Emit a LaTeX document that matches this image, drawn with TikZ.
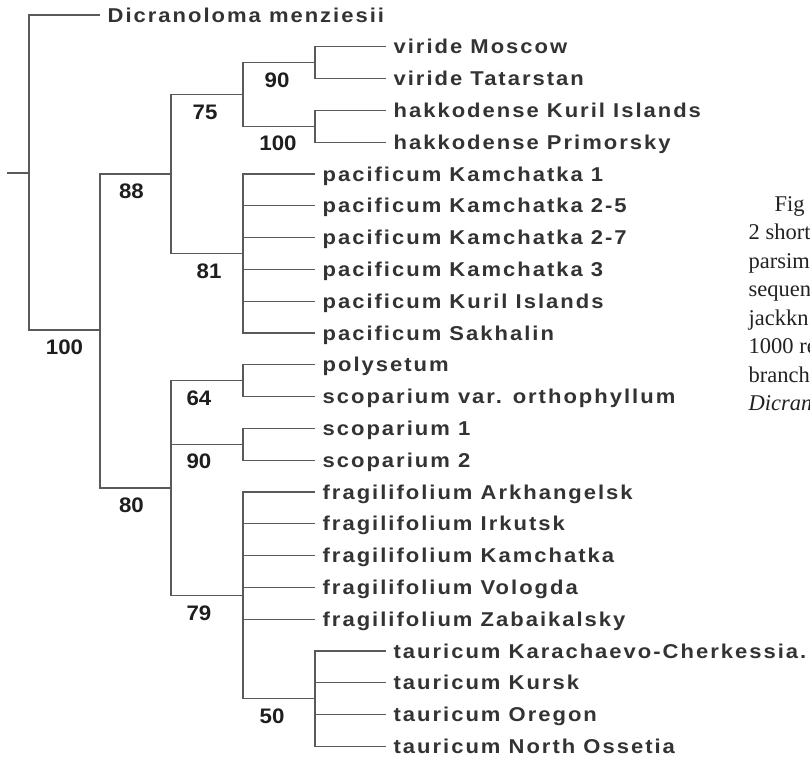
\documentclass[tikz,border=0pt]{standalone}
\usepackage{fontspec}
\usepackage{tikz}
\newfontfamily\treefont[LetterSpace=10,FakeStretch=1.1]{Liberation Sans}
\newfontfamily\bootfont[FakeStretch=1.06]{Liberation Sans}
\newfontfamily\capfont{Liberation Serif}
\definecolor{branch}{HTML}{5A5A5A}
\definecolor{taxon}{HTML}{333333}
\definecolor{support}{HTML}{1E1E1E}
\definecolor{captext}{HTML}{222222}

\begin{document}
\begin{tikzpicture}[x=1pt, y=-1pt, line width=1.3pt, color=branch,
    leaf/.style={anchor=west, inner xsep=7pt, inner ysep=0pt, text height=14pt, text depth=0pt,
      text=taxon, font=\treefont\bfseries\fontsize{20}{24}\selectfont},
    boot/.style={pos=0.75, below=9pt, inner sep=0pt, text height=15pt, text depth=0pt,
      text=support, font=\bootfont\bfseries\fontsize{21}{25}\selectfont},
    caption/.style={anchor=base west, inner sep=0pt, text=captext, font=\capfont\fontsize{22.5}{27}\selectfont}]
    \useasboundingbox (0,0) rectangle (810,761);

    % internal nodes
    \coordinate (base) at (7,173);
    \coordinate (root) at (29,173);
    \coordinate (n100) at (100,330);
    \coordinate (n88) at (171,174);
    \coordinate (n75) at (243,94.5);
    \coordinate (n90a) at (315,62.7);
    \coordinate (n100b) at (315,126.3);
    \coordinate (n81) at (243,253.5);
    \coordinate (n80) at (171,488);
    \coordinate (n64) at (243,380.7);
    \coordinate (n90b) at (243,444.3);
    \coordinate (n79) at (243,595.4);
    \coordinate (n50) at (315,698.7);

    % taxa
    \node[leaf] (dmen) at (100,15) {Dicranoloma menziesii};
    \node[leaf] (vmos) at (386,46.8) {viride Moscow};
    \node[leaf] (vtat) at (386,78.6) {viride Tatarstan};
    \node[leaf] (hkur) at (386,110.4) {hakkodense Kuril Islands};
    \node[leaf] (hpri) at (386,142.2) {hakkodense Primorsky};
    \node[leaf] (pk1) at (315,174) {pacificum Kamchatka 1};
    \node[leaf] (pk25) at (315,205.8) {pacificum Kamchatka 2-5};
    \node[leaf] (pk27) at (315,237.6) {pacificum Kamchatka 2-7};
    \node[leaf] (pk3) at (315,269.4) {pacificum Kamchatka 3};
    \node[leaf] (pkur) at (315,301.2) {pacificum Kuril Islands};
    \node[leaf] (psak) at (315,333) {pacificum Sakhalin};
    \node[leaf] (poly) at (315,364.8) {polysetum};
    \node[leaf] (svor) at (315,396.6) {scoparium var. orthophyllum};
    \node[leaf] (sc1) at (315,428.4) {scoparium 1};
    \node[leaf] (sc2) at (315,460.2) {scoparium 2};
    \node[leaf] (fark) at (315,492) {fragilifolium Arkhangelsk};
    \node[leaf] (firk) at (315,523.8) {fragilifolium Irkutsk};
    \node[leaf] (fkam) at (315,555.6) {fragilifolium Kamchatka};
    \node[leaf] (fvol) at (315,587.4) {fragilifolium Vologda};
    \node[leaf] (fzab) at (315,619.2) {fragilifolium Zabaikalsky};
    \node[leaf] (tkar) at (386,651) {tauricum Karachaevo-Cherkessia.};
    \node[leaf] (tkur) at (386,682.8) {tauricum Kursk};
    \node[leaf] (tore) at (386,714.6) {tauricum Oregon};
    \node[leaf] (tnos) at (386,746.4) {tauricum North Ossetia};

    % branches
    \draw (base) -- (root);
    \draw (root) |- (dmen);
    \draw (root) |- (n100) node[boot] {100};
    \draw (n100) |- (n88) node[boot, xshift=-4pt] {88};
    \draw (n100) |- (n80) node[boot, xshift=-4pt] {80};
    \draw (n88) |- (n75) node[boot, xshift=-2pt] {75};
    \draw (n88) |- (n81) node[boot, xshift=2pt] {81};
    \draw (n75) |- (n90a) node[boot, xshift=-2pt] {90};
    \draw (n75) |- (n100b) node[boot, xshift=-1pt] {100};
    \draw (n90a) |- (vmos);
    \draw (n90a) |- (vtat);
    \draw (n100b) |- (hkur);
    \draw (n100b) |- (hpri);
    \draw (n81) |- (pk1);
    \draw (n81) |- (pk25);
    \draw (n81) |- (pk27);
    \draw (n81) |- (pk3);
    \draw (n81) |- (pkur);
    \draw (n81) |- (psak);
    \draw (n80) |- (n64) node[boot, xshift=-8pt] {64};
    \draw (n80) |- (n90b) node[boot, xshift=-8pt] {90};
    \draw (n80) |- (n79) node[boot, xshift=-8pt] {79};
    \draw (n64) |- (poly);
    \draw (n64) |- (svor);
    \draw (n90b) |- (sc1);
    \draw (n90b) |- (sc2);
    \draw (n79) |- (fark);
    \draw (n79) |- (firk);
    \draw (n79) |- (fkam);
    \draw (n79) |- (fvol);
    \draw (n79) |- (fzab);
    \draw (n79) |- (n50) node[boot, xshift=-7pt] {50};
    \draw (n50) |- (tkar);
    \draw (n50) |- (tkur);
    \draw (n50) |- (tore);
    \draw (n50) |- (tnos);

    % caption, cut at the right edge
    \begin{scope}
    \clip (0,0) rectangle (810,761);
    \node[caption] (cap1) at (774,211) {Fig};
    \node[caption] (cap2) at (748,239.5) {2 short};
    \node[caption] (cap3) at (748,268) {parsim};
    \node[caption] (cap4) at (748,296.5) {sequen};
    \node[caption] (cap5) at (748,325) {jackkn};
    \node[caption] (cap6) at (748,353.5) {1000 re};
    \node[caption] (cap7) at (748,382) {branch};
    \node[caption] (cap8) at (748,410.5) {\itshape Dicran};
    \end{scope}
\end{tikzpicture}
\end{document}
